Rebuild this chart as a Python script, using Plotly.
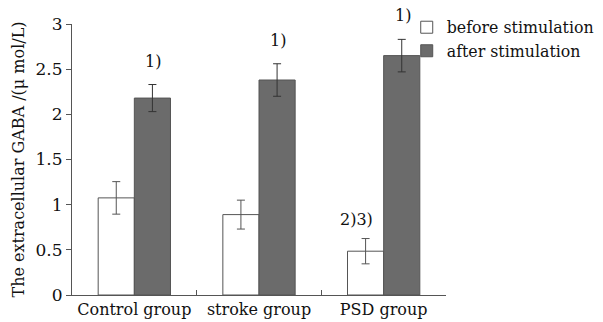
import plotly.graph_objects as go

categories = ["Control group", "stroke group", "PSD group"]
before_vals = [1.075, 0.89, 0.485]
before_err = [0.18, 0.16, 0.14]
after_vals = [2.18, 2.38, 2.65]
after_err = [0.15, 0.18, 0.18]
after_marks = ["1)", "1)", "1)"]
before_marks = ["", "", "2)3)"]

FONT = "DejaVu Serif"

fig = go.Figure()
fig.add_trace(go.Bar(
    x=categories, y=before_vals, name="before stimulation",
    marker=dict(color="white", line=dict(color="#555555", width=1)),
    error_y=dict(type="data", array=before_err, color="#555555", thickness=1, width=4),
))
fig.add_trace(go.Bar(
    x=categories, y=after_vals, name="after stimulation",
    marker=dict(color="#6b6b6b", line=dict(color="#555555", width=1)),
    error_y=dict(type="data", array=after_err, color="#333333", thickness=1, width=4),
))

for i, c in enumerate(categories):
    if after_marks[i]:
        fig.add_annotation(x=c, y=after_vals[i] + after_err[i], text=after_marks[i],
                           xshift=19, yshift=12, yanchor="bottom", showarrow=False,
                           font=dict(family=FONT, size=16, color="#111"))
    if before_marks[i]:
        fig.add_annotation(x=c, y=before_vals[i] + before_err[i], text=before_marks[i],
                           xshift=-27, yshift=8, yanchor="bottom", showarrow=False,
                           font=dict(family=FONT, size=16, color="#111"))

fig.update_layout(
    width=603, height=322,
    margin=dict(l=72, r=157, t=24, b=27, autoexpand=False),
    paper_bgcolor="white", plot_bgcolor="white",
    barmode="group", bargap=0.42, bargroupgap=0,
    font=dict(family=FONT, size=16, color="#111"),
    showlegend=True,
    legend=dict(x=0.895, y=1.05, xanchor="left", yanchor="top",
                bgcolor="rgba(0,0,0,0)", itemwidth=30,
                font=dict(family=FONT, size=15.8), tracegroupgap=0),
    xaxis=dict(showline=True, linecolor="#555555", linewidth=1,
               ticks="inside", tickson="boundaries", ticklen=5, tickcolor="#555555",
               showgrid=False, tickangle=0, automargin=False,
               tickfont=dict(family=FONT, size=16)),
    yaxis=dict(range=[0, 3], showline=True, linecolor="#555555", linewidth=1,
               ticks="outside", ticklen=5, tickcolor="#555555",
               dtick=0.5, showgrid=False, zeroline=False, automargin=False,
               tickfont=dict(family=FONT, size=17),
               title=dict(text="The extracellular GABA /(μ mol/L)",
                          font=dict(family=FONT, size=16), standoff=6)),
)

fig.write_html("out.html", config={"displayModeBar": False},
               post_script="document.body.style.margin='0';")
